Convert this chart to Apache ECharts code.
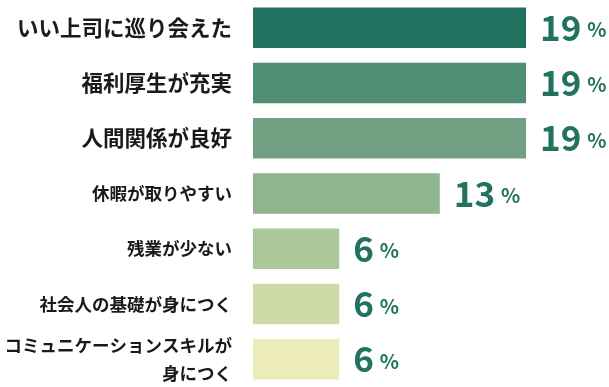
<!DOCTYPE html>
<html>
<head>
<meta charset="utf-8">
<style>html,body{margin:0;padding:0;background:#fff}#c{width:609px;height:387px}</style>
<script src="https://cdn.jsdelivr.net/npm/echarts@6/dist/echarts.min.js"></script>
</head>
<body>
<div id="c"></div>
<script>
const categories = ['いい上司に巡り会えた','福利厚生が充実','人間関係が良好','休暇が取りやすい','残業が少ない','社会人の基礎が身につく','コミュニケーションスキルが\n身につく'];
const values = [19,19,19,13,6,6,6];
const barColors = ['#21735f','#508e73','#71a182','#8fb58e','#acc89a','#cddca7','#ececb6'];
const bigCount = 3;

const chart = echarts.init(document.getElementById('c'), null, {renderer:'canvas'});
const FF = '"Noto Sans CJK JP","Noto Sans",sans-serif';
chart.setOption({
  animation:false,
  grid:{left:253, top:-1.4, height:388.2, width:287.4, containLabel:false},
  xAxis:{type:'value', min:0, max:20, show:false},
  yAxis:{
    type:'category', data:categories, inverse:true,
    axisLine:{show:false}, axisTick:{show:false}, splitLine:{show:false},
    axisLabel:{
      margin:21, align:'right',
      formatter:function(v, i){
        const st = i < bigCount ? 'b' : 's';
        return v.split('\n').map(function(l){return '{'+st+'|'+l+'}';}).join('\n');
      },
      rich:{
        b:{fontFamily:FF, fontWeight:'bold', fontSize:21.5, color:'#1a1a1a', lineHeight:28},
        s:{fontFamily:FF, fontWeight:'bold', fontSize:17.5, color:'#1a1a1a', lineHeight:28}
      }
    }
  },
  series:[{
    type:'bar', barWidth:40.5,
    data: values.map(function(v,i){return {value:v, itemStyle:{color:barColors[i]}};}),
    label:{
      show:true, position:'right', distance:14,
      formatter:'{v|{c}}{p|%}',
      rich:{
        v:{fontFamily:FF, fontWeight:'bold', fontSize:35, color:'#21735f'},
        p:{fontFamily:FF, fontWeight:'bold', fontSize:20, color:'#21735f', padding:[4,0,0,6], verticalAlign:'middle'}
      }
    }
  }]
});
</script>
</body>
</html>
